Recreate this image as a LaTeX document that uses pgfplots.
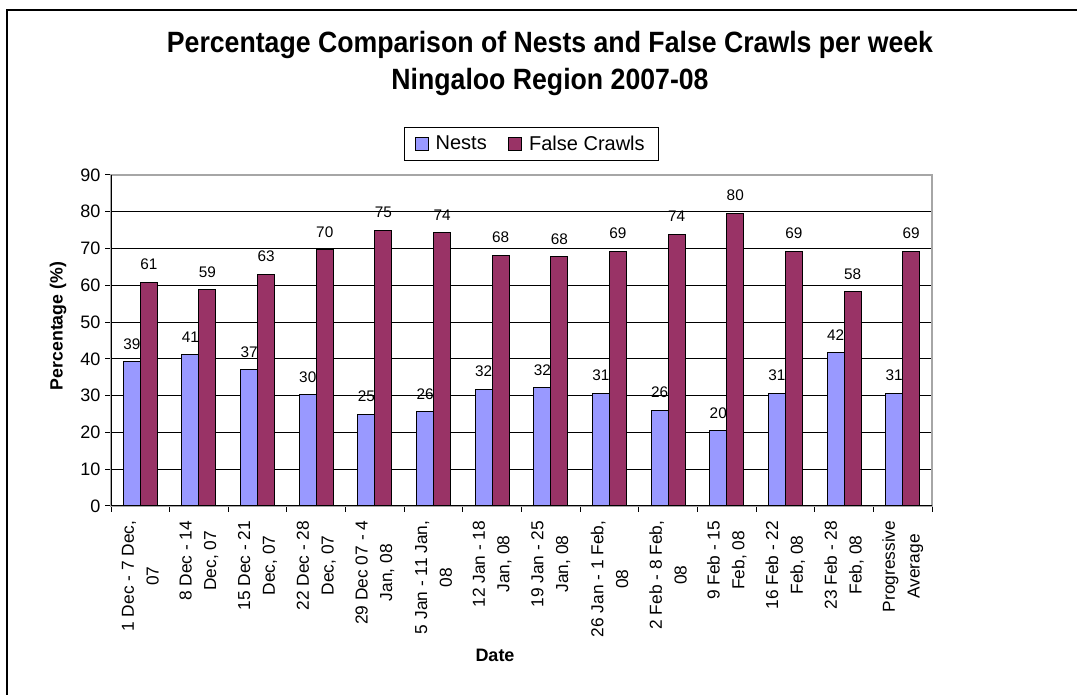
\documentclass[border=0pt]{standalone}
\usepackage{fontspec}
\setmainfont{Liberation Sans}
\usepackage{pgfplots}
\pgfplotsset{compat=1.18}
\definecolor{nests}{HTML}{9999FF}
\definecolor{crawls}{HTML}{993366}
\begin{document}
\begin{tikzpicture}
\clip (0,0) rectangle (807.75pt,521.25pt);
% chart frame (runs off the right and bottom edges)
\draw[line width=1.5pt] (5.25pt,-5pt) -- (5.25pt,513.75pt) -- (820pt,513.75pt);
\begin{axis}[
    at={(83.25pt,141.75pt)}, anchor=south west,
    scale only axis, width=615.75pt, height=248.25pt,
    ybar=0pt, bar width=12.75pt,
    xmin=-0.5, xmax=13.5, ymin=0, ymax=90,
    ytick={0,10,...,90},
    xtick={0,...,13},
    xticklabels={
        {1 Dec - 7 Dec,\\07}, {8 Dec - 14\\Dec, 07}, {15 Dec - 21\\Dec, 07},
        {22 Dec - 28\\Dec, 07}, {29 Dec 07 - 4\\Jan, 08}, {5 Jan - 11 Jan,\\08},
        {12 Jan - 18\\Jan, 08}, {19 Jan - 25\\Jan, 08}, {26 Jan - 1 Feb,\\08},
        {2 Feb - 8 Feb,\\08}, {9 Feb - 15\\Feb, 08}, {16 Feb - 22\\Feb, 08},
        {23 Feb - 28\\Feb, 08}, {Progressive\\Average}},
    major x tick style={draw=none},
    minor xtick={-0.5,0.5,...,13.5},
    xtick pos=left, ytick pos=left,
    tick align=outside,
    major tick length=4.5pt, minor tick length=4.5pt,
    tick style={black, line width=0.75pt},
    ymajorgrids, major grid style={black, line width=0.75pt},
    axis line style={draw=gray!70, line width=1pt},
    /pgf/number format/assume math mode=true,
    yticklabel style={font=\fontsize{13.5}{15}\selectfont},
    xticklabel style={rotate=90, anchor=east, align=center,
        font=\fontsize{13}{18.5}\selectfont},
    xticklabel shift=3pt,
    nodes near coords={\pgfmathprintnumber[fixed,precision=0]{\pgfplotspointmeta}},
    every node near coord/.append style={font=\fontsize{11.5}{13}\selectfont,
        black, yshift=5.5pt},
    legend columns=2,
    legend image code/.code={\draw[#1, line width=0.75pt] (0pt,-5pt) rectangle (10pt,5pt);},
    legend style={at={(0.5116,1.0937)}, anchor=center, draw=black,
        line width=0.75pt, font=\fontsize{15}{18}\selectfont,
        inner xsep=8pt, inner ysep=4pt,
        /tikz/every odd column/.append style={column sep=3pt},
        /tikz/every even column/.append style={column sep=14pt}},
]
\addplot[fill=nests, draw=black, line width=0.75pt] coordinates {
    (0,39.2) (1,41.2) (2,37.0) (3,30.3) (4,25.0) (5,25.6) (6,31.8)
    (7,32.2) (8,30.7) (9,26.1) (10,20.4) (11,30.7) (12,41.7) (13,30.7)};
\addlegendentry{Nests}
\addplot[fill=crawls, draw=black, line width=0.75pt] coordinates {
    (0,60.8) (1,58.8) (2,63.0) (3,69.7) (4,75.0) (5,74.4) (6,68.2)
    (7,67.8) (8,69.3) (9,73.9) (10,79.6) (11,69.3) (12,58.3) (13,69.3)};
\addlegendentry{False Crawls}
\draw[black, line width=0.75pt] (rel axis cs:0,1) -- (rel axis cs:0,0) -- (rel axis cs:1,0);
\end{axis}
\node[font=\bfseries\fontsize{20}{25.5}\selectfont, align=center, yscale=1.1, transform shape]
    at (412.5pt,473.5pt)
    {Percentage Comparison of Nests and False Crawls per week\\Ningaloo Region 2007-08};
\node[font=\bfseries\fontsize{13.3}{15}\selectfont, rotate=90] at (43.5pt,276.75pt) {Percentage (\%)};
\node[font=\bfseries\fontsize{13.5}{15}\selectfont] at (371.25pt,30pt) {Date};
\end{tikzpicture}
\end{document}
